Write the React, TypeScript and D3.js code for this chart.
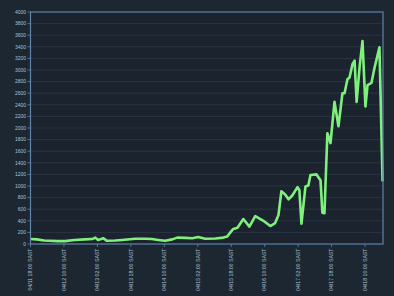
import React from "react";
import * as d3 from "d3";

const startTime = new Date(2020, 3, 11, 18, 0, 0);
// hours after 04/11 18:00 SAST
const hours = [
  0, 3, 6.5, 9.3, 13, 16.5, 21, 26, 29.5, 31, 32.3, 33.8, 34.7, 36.6, 40.5, 43.8,
  50, 55, 58, 61, 64.4, 67.8, 70.2, 74, 77.4, 80.2, 83.6, 88.4, 92.2, 94.1, 95.6,
  97, 99, 101.8, 104.7, 107.5, 111.4, 114.7, 117, 118.6, 120, 121.9, 123.4, 125.3,
  127.7, 128.6, 129.6, 131.5, 132.9, 133.9, 136.8, 138.7, 139.6, 140.6, 142, 143.5,
  145.4, 147.3, 149.2, 150.2, 151.6, 152.6, 154, 155, 156, 157.4, 158.8, 160.2,
  161.2, 163.1, 164.5, 166.9, 168.4,
];
const values = [
  85, 80, 60, 57, 50, 50, 70, 80, 85, 110, 70, 85, 100, 55, 60, 70,
  90, 90, 85, 70, 55, 80, 110, 105, 100, 120, 90, 95, 110, 130, 200,
  260, 280, 430, 300, 480, 400, 310, 360, 500, 910, 850, 770, 840,
  980, 930, 350, 990, 1010, 1190, 1200, 1100, 540, 530, 1910, 1740,
  2450, 2030, 2600, 2600, 2840, 2870, 3100, 3160, 2450, 3050, 3500, 2370,
  2740, 2780, 3030, 3390, 1080,
];
const xTickLabels = [
  "04/11 18:00 SAST", "04/12 10:00 SAST", "04/13 02:00 SAST", "04/13 18:00 SAST",
  "04/14 10:00 SAST", "04/15 02:00 SAST", "04/15 18:00 SAST", "04/16 10:00 SAST",
  "04/17 02:00 SAST", "04/17 18:00 SAST", "04/18 10:00 SAST",
];
const xTickHours = [0, 16, 32, 48, 64, 80, 96, 112, 128, 144, 160];
const yTicks = d3.range(0, 4001, 200);

const W = 394, H = 296;
const m = { left: 30.5, right: 383, top: 12, bottom: 244 };

export default function App() {
  const hourMs = 3600 * 1000;
  const toDate = (h: number) => new Date(startTime.getTime() + h * hourMs);
  const x = d3.scaleTime()
    .domain([toDate(0), toDate(168.6)])
    .range([m.left, m.right]);
  const y = d3.scaleLinear().domain([0, 4000]).range([m.bottom, m.top]);
  const data = hours.map((h, i) => ({ t: toDate(h), v: values[i] }));
  const line = d3.line<{ t: Date; v: number }>()
    .x((d) => x(d.t))
    .y((d) => y(d.v))
    .curve(d3.curveLinear);

  const bg = "#1d2731";
  const axis = "#5f84ab";
  const txt = "#a8c0d8";
  const font = "Liberation Sans, Arial, sans-serif";

  return (
    <svg width={W} height={H} style={{ position: "fixed", left: 0, top: 0 }}>
      <rect x={0} y={0} width={W} height={H} fill={bg} />
      <rect x={m.left} y={m.top} width={m.right - m.left} height={m.bottom - m.top} fill="#1b242e" />
      {yTicks.map((t) => (
        <g key={t}>
          {t > 0 && t < 4000 && (
            <line x1={m.left} x2={m.right} y1={y(t)} y2={y(t)} stroke="#2c3946" strokeWidth={0.8} />
          )}
          <line x1={m.left - 3} x2={m.left} y1={y(t)} y2={y(t)} stroke={axis} strokeWidth={0.8} />
          <text x={m.left - 4.5} y={y(t)} dy="0.35em" textAnchor="end" fontSize={5} fill={txt} fontFamily={font}>
            {t}
          </text>
        </g>
      ))}
      <path d={line(data) || ""} fill="none" stroke="#80f07c" strokeWidth={2.6} strokeLinejoin="round" />
      <rect x={m.left} y={m.top} width={m.right - m.left} height={m.bottom - m.top} fill="none" stroke={axis} strokeWidth={1.2} />
      {xTickHours.map((h, i) => {
        const px = x(toDate(h));
        return (
          <g key={h}>
            <line x1={px} x2={px} y1={m.bottom} y2={m.bottom + 3} stroke={axis} strokeWidth={0.8} />
            <text
              transform={`translate(${px + 1.8},${m.bottom + 4.5}) rotate(-90)`}
              textAnchor="end"
              fontSize={5.2}
              fill={txt}
              fontFamily={font}
            >
              {xTickLabels[i]}
            </text>
          </g>
        );
      })}
    </svg>
  );
}
